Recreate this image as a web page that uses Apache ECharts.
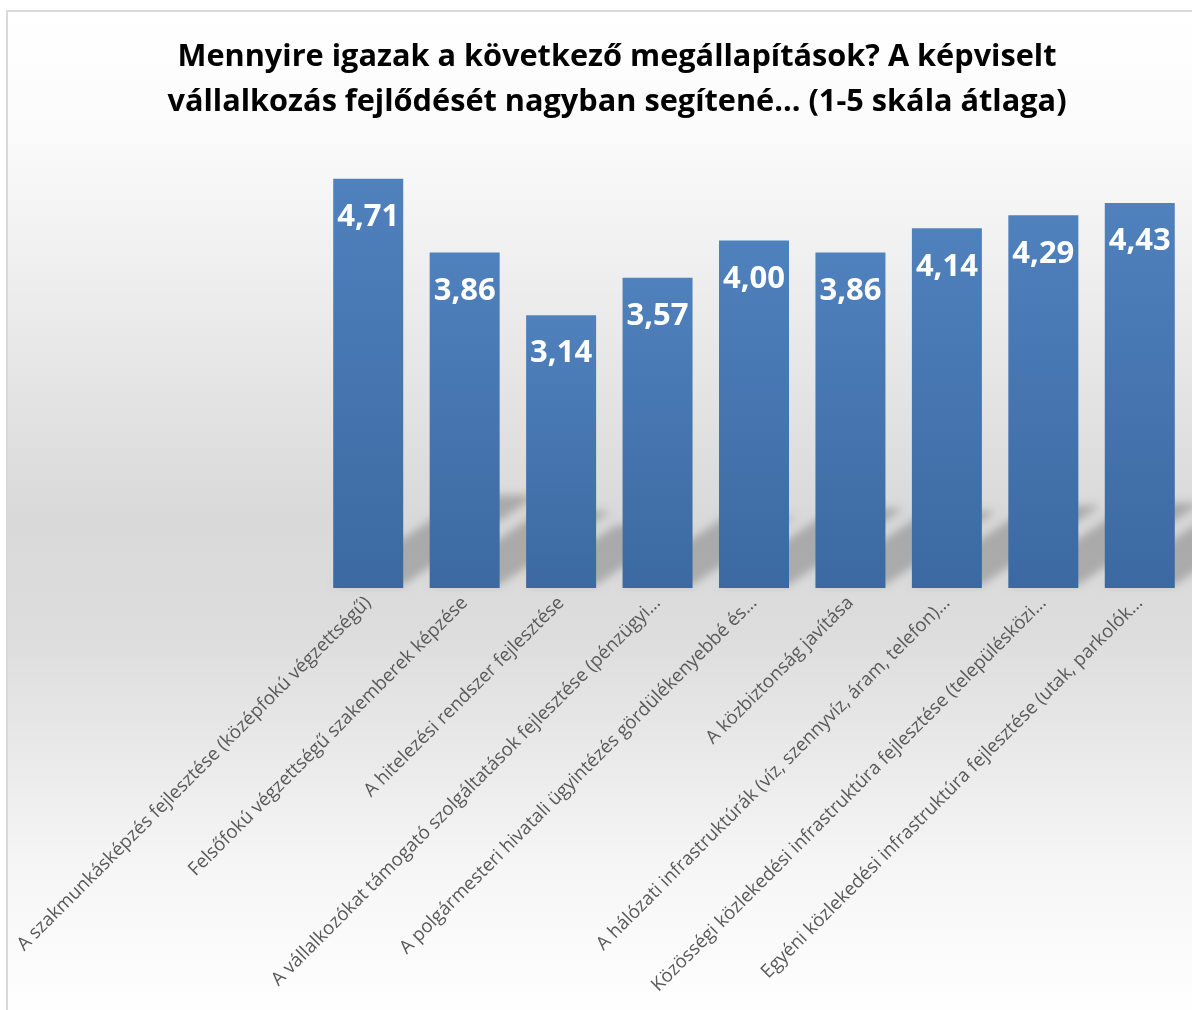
<!DOCTYPE html>
<html>
<head>
<meta charset="utf-8">
<script src="https://cdn.jsdelivr.net/npm/echarts@6/dist/echarts.min.js"></script>
<style>
html,body{margin:0;padding:0;background:#fff;}
#c{width:1192px;height:1010px;}
</style>
</head>
<body>
<div id="c"></div>
<script>
const titleLines = [
  'Mennyire igazak a következő megállapítások? A képviselt',
  'vállalkozás fejlődését nagyban segítené... (1-5 skála átlaga)'
];
const categories = [
  'A szakmunkásképzés fejlesztése (középfokú végzettségű)',
  'Felsőfokú végzettségű szakemberek képzése',
  'A hitelezési rendszer fejlesztése',
  'A vállalkozókat támogató szolgáltatások fejlesztése (pénzügyi…',
  'A polgármesteri hivatali ügyintézés gördülékenyebbé és…',
  'A közbiztonság javítása',
  'A hálózati infrastruktúrák (víz, szennyvíz, áram, telefon)…',
  'Közösségi közlekedési infrastruktúra fejlesztése (településközi…',
  'Egyéni közlekedési infrastruktúra fejlesztése (utak, parkolók…'
];
const values = [4.71, 3.86, 3.14, 3.57, 4.00, 3.86, 4.14, 4.29, 4.43];

const BAR_W = 70;
const OFF = 3000; // shape drawn off-canvas, only its blurred shadow is shown

function shadowItem(params, api) {
  const base = api.coord([api.value(0), 0]);
  const top = api.coord([api.value(0), api.value(1)]);
  const h = base[1] - top[1];
  const v = h * 0.22;
  const dx = v * 1.5;
  const xL = base[0] - BAR_W / 2 - OFF, xR = base[0] + BAR_W / 2 - OFF, y0 = base[1] - 3;
  return {
    type: 'polygon',
    shape: {points: [[xL, y0], [xR, y0], [xR + dx, y0 - v], [xL + dx, y0 - v]]},
    style: {
      fill: '#000',
      shadowColor: 'rgba(0,0,0,0.22)',
      shadowBlur: 9,
      shadowOffsetX: OFF,
      shadowOffsetY: 0
    }
  };
}

const chart = echarts.init(document.getElementById('c'));
chart.setOption({
  animation: false,
  graphic: [
    {
      type: 'rect', z: -10, silent: true,
      shape: {x: 7, y: 11, width: 1200, height: 1010},
      style: {
        fill: new echarts.graphic.LinearGradient(0, 0, 0, 1, [
          {offset: 0, color: '#ffffff'},
          {offset: 0.12, color: '#fbfbfb'},
          {offset: 0.5, color: '#d9d9d9'},
          {offset: 0.62, color: '#dddddd'},
          {offset: 0.85, color: '#f6f6f6'},
          {offset: 1, color: '#ffffff'}
        ]),
        stroke: '#d9d9d9',
        lineWidth: 2
      }
    }
  ],
  title: {
    text: titleLines.join('\n'),
    left: 612,
    textAlign: 'center',
    top: 30,
    textStyle: {
      fontFamily: 'Open Sans',
      fontWeight: 'bold',
      fontSize: 30.7,
      lineHeight: 45,
      color: '#000000'
    }
  },
  grid: {left: 320, right: 4, top: 153.5, bottom: 422, containLabel: false},
  xAxis: {
    type: 'category',
    data: categories,
    axisLine: {show: false},
    axisTick: {show: false},
    axisLabel: {
      rotate: 45,
      interval: 0,
      margin: 12,
      fontFamily: 'Open Sans',
      fontSize: 18.6,
      color: '#595959'
    }
  },
  yAxis: {
    type: 'value',
    min: 0, max: 5,
    show: false,
    splitLine: {show: false}
  },
  series: [
    {
      type: 'custom',
      z: 1,
      silent: true,
      clip: false,
      renderItem: shadowItem,
      data: values.map((v, i) => [i, v])
    },
    {
      type: 'bar',
      z: 2,
      data: values,
      barWidth: BAR_W,
      itemStyle: {
        color: new echarts.graphic.LinearGradient(0, 0, 0, 1, [
          {offset: 0, color: '#4f81bd'},
          {offset: 1, color: '#3c69a1'}
        ])
      },
      label: {
        show: true,
        position: 'insideTop',
        distance: 23,
        color: '#ffffff',
        fontFamily: 'Open Sans',
        fontWeight: 'bold',
        fontSize: 31,
        formatter: p => p.value.toFixed(2).replace('.', ',')
      }
    }
  ]
});
</script>
</body>
</html>
